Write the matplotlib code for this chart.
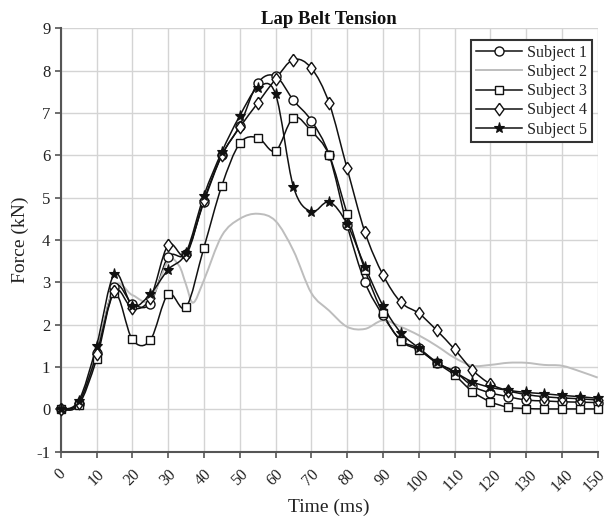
import numpy as np
import matplotlib
matplotlib.use("Agg")
import matplotlib.pyplot as plt
import matplotlib.transforms as mtransforms
from matplotlib.path import Path
from matplotlib.patches import PathPatch
from matplotlib.lines import Line2D

# ---------------- data ----------------
time_ms = [0, 5, 10, 15, 20, 25, 30, 35, 40, 45, 50, 55, 60, 65, 70, 75, 80, 85,
           90, 95, 100, 105, 110, 115, 120, 125, 130, 135, 140, 145, 150]

subject1 = [0, 0.12, 1.32, 2.9, 2.5, 2.5, 3.6, 3.68, 4.9, 6.0, 6.7, 7.7, 7.87, 7.3,
            6.82, 6.0, 4.35, 3.0, 2.22, 1.63, 1.44, 1.09, 0.9, 0.55, 0.39, 0.3,
            0.22, 0.2, 0.18, 0.17, 0.16]
subject3 = [0, 0.1, 1.18, 2.74, 1.65, 1.63, 2.72, 2.41, 3.82, 5.28, 6.28, 6.42,
            6.1, 6.89, 6.57, 6.0, 4.62, 3.29, 2.27, 1.62, 1.4, 1.1, 0.81, 0.42,
            0.18, 0.05, 0.02, 0.01, 0.01, 0.01, 0.01]
subject4 = [0, 0.15, 1.3, 2.8, 2.39, 2.62, 3.88, 3.65, 4.94, 6.0, 6.66, 7.23, 7.8,
            8.26, 8.06, 7.23, 5.69, 4.18, 3.18, 2.53, 2.27, 1.87, 1.42, 0.93, 0.6,
            0.44, 0.35, 0.3, 0.27, 0.25, 0.22]
subject5 = [0, 0.2, 1.5, 3.2, 2.45, 2.72, 3.3, 3.7, 5.05, 6.08, 6.93, 7.59, 7.45,
            5.26, 4.67, 4.9, 4.38, 3.37, 2.45, 1.81, 1.45, 1.12, 0.88, 0.65, 0.52,
            0.45, 0.4, 0.37, 0.33, 0.3, 0.26]

# Subject 2 (no markers, traced curve)
time_s2 = [0, 5, 10, 15, 20, 25, 30, 33, 35, 37, 40, 45, 50, 55, 60, 65, 70, 75,
           80, 85, 90, 95, 100, 105, 110, 115, 120, 125, 130, 135, 140, 145, 150]
subject2 = [0, 0.15, 1.3, 2.9, 2.7, 2.58, 3.5, 3.4, 2.95, 2.52, 3.05, 4.1, 4.5,
            4.62, 4.45, 3.75, 2.75, 2.33, 1.95, 1.9, 2.1, 1.95, 1.75, 1.5, 1.22,
            1.03, 1.05, 1.1, 1.1, 1.05, 1.03, 0.9, 0.75]

labels = ["Subject 1", "Subject 2", "Subject 3", "Subject 4", "Subject 5"]
x_ticks = list(range(0, 151, 10))
y_ticks = list(range(-1, 10))

# ---------------- helpers ----------------
def smooth_path(x, y):
    """Excel-like smoothed line: Catmull-Rom converted to cubic Bezier."""
    p = np.column_stack([x, y]).astype(float)
    n = len(p)
    verts = [p[0]]
    codes = [Path.MOVETO]
    for i in range(n - 1):
        p0 = p[i - 1] if i > 0 else p[i]
        p1 = p[i]
        p2 = p[i + 1]
        p3 = p[i + 2] if i + 2 < n else p[i + 1]
        c1 = p1 + (p2 - p0) / 6.0
        c2 = p2 - (p3 - p1) / 6.0
        verts += [c1, c2, p2]
        codes += [Path.CURVE4] * 3
    return Path(verts, codes)

plt.rcParams['font.family'] = ['Liberation Serif', 'DejaVu Serif']

fig = plt.figure(figsize=(6.08, 5.23), dpi=100)
ax = fig.add_axes([60.7 / 608, 1 - 451.7 / 523, (597.7 - 60.7) / 608, (451.7 - 28.3) / 523])

black = '#111111'
gray = '#bdbdbd'
diamond = [(0, 1), (0.72, 0), (0, -1), (-0.72, 0), (0, 1)]

styles = [
    dict(marker='o', ms=6.5, mfc='white', mec=black, mew=1.0),
    None,
    dict(marker='s', ms=5.5, mfc='white', mec=black, mew=1.0),
    dict(marker=diamond, ms=9, mfc='white', mec=black, mew=1.0),
    dict(marker='*', ms=8, mfc=black, mec=black, mew=0.8),
]
series = [(time_ms, subject1), (time_s2, subject2), (time_ms, subject3),
          (time_ms, subject4), (time_ms, subject5)]

handles = []
for k, ((xs, ys), st, lab) in enumerate(zip(series, styles, labels)):
    color = gray if st is None else black
    lw = 1.4 if st is None else 1.1
    patch = PathPatch(smooth_path(xs, ys), fill=False, edgecolor=color, lw=lw,
                      zorder=2 + k * 0.1, clip_on=False)
    ax.add_patch(patch)
    if st is not None:
        ax.plot(xs, ys, linestyle='none', zorder=3 + k * 0.1, clip_on=False, **st)
        handles.append(Line2D([], [], color=color, lw=lw, **st))
    else:
        handles.append(Line2D([], [], color=color, lw=lw))

ax.set_xlim(0, 150)
ax.set_ylim(-1, 9)
ax.set_xticks(x_ticks)
ax.set_yticks(y_ticks)
ax.set_xticklabels([str(t) for t in x_ticks], rotation=45, ha='center',
                   rotation_mode='default')
ax.set_yticklabels([str(t) for t in y_ticks])

ax.grid(True, color='#d4d4d4', lw=1.0, zorder=0)
ax.set_axisbelow(True)
for s in ['top', 'right']:
    ax.spines[s].set_visible(False)
for s in ['left', 'bottom']:
    ax.spines[s].set_color('#555555')
    ax.spines[s].set_linewidth(1.5)
ax.tick_params(axis='both', direction='out', length=4.5, width=1.2,
               color='#555555', labelsize=12, labelcolor='#222222')
ax.tick_params(axis='x', pad=6, labelsize=11.5)
ax.tick_params(axis='y', pad=3)

# nudge the last x tick label so it stays inside the canvas
last = ax.get_xticklabels()[-1]
last.set_transform(last.get_transform() +
                   mtransforms.ScaledTranslation(-3 / 100, 0, fig.dpi_scale_trans))

ax.set_title("Lap Belt Tension", fontsize=13.5, fontweight='bold', pad=3,
             color='#111111')
ax.set_xlabel("Time (ms)", fontsize=14, color='#222222')
ax.set_ylabel("Force (kN)", fontsize=14, color='#222222')
ax.xaxis.set_label_coords(0.5, -0.112)
ax.yaxis.set_label_coords(-0.059, 0.5)

leg = ax.legend(handles, labels, loc='upper right',
                bbox_to_anchor=(592 / 608, 1 - 40 / 523),
                bbox_transform=fig.transFigure,
                fontsize=11.5, frameon=True, fancybox=False, framealpha=1,
                edgecolor='#333333', handlelength=2.9, handletextpad=0.3,
                labelspacing=0.2, borderpad=0.3, borderaxespad=0)
leg.get_frame().set_linewidth(1.5)
for t in leg.get_texts():
    t.set_color('#222222')

fig.savefig("out.png", dpi=100)
